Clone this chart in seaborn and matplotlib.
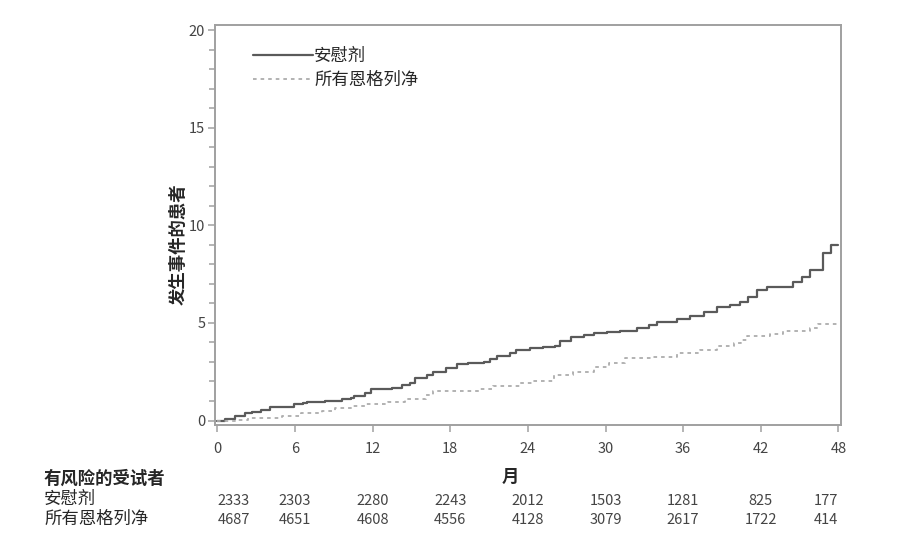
import numpy as np
import pandas as pd
import matplotlib
matplotlib.use("Agg")
import matplotlib.pyplot as plt
import matplotlib.transforms as mtransforms
import seaborn as sns

# cumulative incidence (%)
placebo_month = [0, 0.6, 1.4, 2.1, 2.7, 3.4, 4.1, 5.9, 6.6, 6.9, 8.3, 9.6, 10.3, 10.6,
                 11.4, 11.9, 13.5, 14.3, 14.9, 15.3, 16.2, 16.7, 17.7, 18.5, 19.4, 20.6,
                 21.1, 21.6, 22.6, 23.1, 24.2, 25.2, 26.1, 26.5, 27.3, 28.3, 29.1, 30.1,
                 31.1, 32.4, 33.4, 34.0, 35.5, 36.5, 37.6, 38.6, 39.6, 40.4, 41.0, 41.7,
                 42.5, 44.5, 45.2, 45.8, 46.8, 47.4, 48.0]
placebo_pct = [0, 0.08, 0.23, 0.37, 0.45, 0.54, 0.71, 0.83, 0.88, 0.96, 1.01, 1.08, 1.14,
               1.27, 1.39, 1.60, 1.68, 1.82, 1.90, 2.16, 2.33, 2.50, 2.67, 2.89, 2.96, 3.01,
               3.13, 3.30, 3.47, 3.61, 3.70, 3.78, 3.81, 4.09, 4.29, 4.38, 4.50, 4.55,
               4.60, 4.72, 4.89, 5.06, 5.18, 5.35, 5.57, 5.83, 5.91, 6.08, 6.34, 6.68,
               6.82, 7.10, 7.36, 7.70, 8.56, 8.99, 8.99]

empa_month = [0, 1.4, 2.4, 5.0, 6.5, 8.1, 9.1, 10.4, 11.4, 13.2, 14.5, 16.1, 16.7, 20.3,
              21.3, 23.4, 24.4, 26.0, 27.5, 29.1, 30.3, 31.5, 33.7, 35.5, 37.3, 38.6,
              39.9, 40.5, 40.9, 42.7, 43.7, 45.8, 46.4, 47.9]
empa_pct = [0, 0.03, 0.14, 0.23, 0.37, 0.49, 0.66, 0.74, 0.83, 0.96, 1.10, 1.31, 1.53,
            1.60, 1.77, 1.90, 2.04, 2.33, 2.50, 2.72, 2.93, 3.18, 3.27, 3.47, 3.61, 3.81,
            3.95, 4.12, 4.33, 4.41, 4.60, 4.72, 4.94, 4.94]

group_names = ["安慰剂", "所有恩格列净"]
x_ticks = [0, 6, 12, 18, 24, 30, 36, 42, 48]
risk_placebo = [2333, 2303, 2280, 2243, 2012, 1503, 1281, 825, 177]
risk_empa = [4687, 4651, 4608, 4556, 4128, 3079, 2617, 1722, 414]

df_p = pd.DataFrame({"month": placebo_month, "pct": placebo_pct})
df_e = pd.DataFrame({"month": empa_month, "pct": empa_pct})

sns.set_style("white")
plt.rcParams["font.family"] = ["Noto Sans CJK SC", "DejaVu Sans"]

W, H = 912, 545
fig = plt.figure(figsize=(W / 100, H / 100), dpi=100)
ax = fig.add_axes([215 / W, 1 - 425 / H, 626 / W, 400 / H])

sns.lineplot(data=df_p, x="month", y="pct", ax=ax, drawstyle="steps-post",
             color="#5a5a5a", linewidth=1.6, estimator=None, label=group_names[0])
sns.lineplot(data=df_e, x="month", y="pct", ax=ax, drawstyle="steps-post",
             color="#adadad", linewidth=1.3, linestyle=(0, (2, 2.2)), estimator=None,
             label=group_names[1])

ax.set_xlim(-0.18, 48.2)
ax.set_ylim(-0.23, 20.26)
ax.set_xticks(x_ticks)
ax.set_yticks([0, 5, 10, 15, 20])
ax.set_yticks(np.arange(0, 21, 1), minor=True)
ax.set_xlabel("")
ax.set_ylabel("")

for s in ax.spines.values():
    s.set_color("#a0a0a0")
    s.set_linewidth(1.4)
ax.tick_params(axis="both", which="major", direction="out", length=5, width=1.1,
               color="#a0a0a0", labelsize=10.5, labelcolor="#444444")
ax.tick_params(axis="y", which="minor", direction="out", length=4, width=1.1,
               color="#a0a0a0", left=True)
ax.tick_params(axis="x", which="major", bottom=True, pad=7)
ax.tick_params(axis="y", which="major", left=True, pad=2)

leg = ax.legend(loc="upper left", bbox_to_anchor=(0.035, 0.985), frameon=False,
                fontsize=12.5, handlelength=3.5, handletextpad=0.05, labelspacing=0.35)

fig.text(179 / W, 1 - 244 / H, "发生事件的患者", rotation=90, ha="center", va="center",
         fontsize=12.5, fontweight="bold")
fig.text(510 / W, 1 - 477 / H, "月", ha="center", va="center", fontsize=12.5,
         fontweight="bold")

fig.text(44 / W, 1 - 479 / H, "有风险的受试者", ha="left", va="center", fontsize=12.5,
         fontweight="bold")
fig.text(44 / W, 1 - 499 / H, group_names[0], ha="left", va="center", fontsize=12.5)
fig.text(44 / W, 1 - 519 / H, group_names[1], ha="left", va="center", fontsize=12.5)

trans = mtransforms.blended_transform_factory(ax.transData, fig.transFigure)
for i, m in enumerate(x_ticks):
    ha = "left" if i == 0 else ("right" if i == len(x_ticks) - 1 else "center")
    ax.text(m, 1 - 501 / H, str(risk_placebo[i]), transform=trans, ha=ha, va="center",
            fontsize=10.5, color="#444444")
    ax.text(m, 1 - 520 / H, str(risk_empa[i]), transform=trans, ha=ha, va="center",
            fontsize=10.5, color="#444444")

fig.savefig("out.png", dpi=100)
